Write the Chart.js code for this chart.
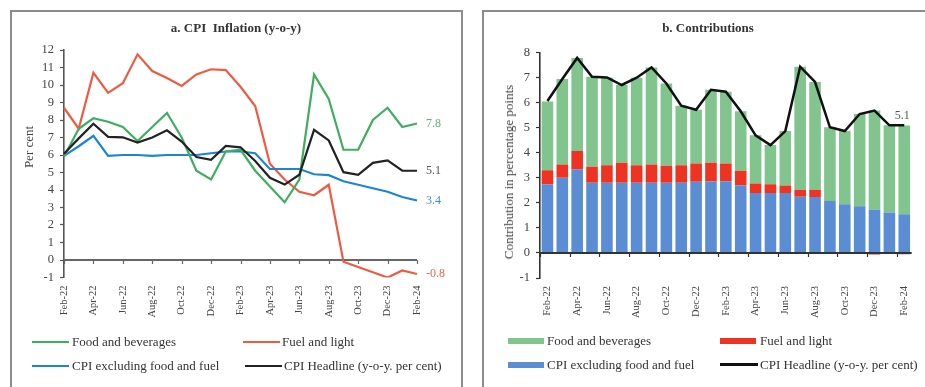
<!DOCTYPE html>
<html>
<head>
<meta charset="utf-8">
<script src="https://cdn.jsdelivr.net/npm/chart.js@4.4.1/dist/chart.umd.min.js"></script>
<style>
  html, body { margin: 0; padding: 0; background: #fff; }
  body { width: 925px; height: 387px; position: relative; overflow: hidden;
         font-family: "Liberation Serif", "DejaVu Serif", serif; color: #333; }
  .panel { position: absolute; top: 10px; height: 420px; border: 2px solid #8c8c8c; box-sizing: border-box; }
  canvas { position: absolute; top: 0; }
  .title { position: absolute; top: 20px; line-height: 16px; font-weight: bold; font-size: 13px;
           color: #333; white-space: nowrap; transform: translateX(-50%); }
  .ytitle { position: absolute; font-size: 13px; line-height: 14px; color: #444; white-space: nowrap;
            transform: translate(-50%, -50%) rotate(-90deg); }
  .leg { position: absolute; font-size: 13px; line-height: 16px; color: #333; white-space: nowrap; }
  .sw { position: absolute; }
</style>
</head>
<body>
<div class="panel" style="left:10px;width:453px;"></div>
<div class="panel" style="left:482px;width:470px;"></div>

<canvas id="infl" width="470" height="387" style="left:0;"></canvas>
<canvas id="contrib" width="455" height="387" style="left:470px;"></canvas>

<div class="title" style="left:236px;">a. CPI&nbsp; Inflation (y-o-y)</div>
<div class="title" style="left:708px;">b. Contributions</div>

<div class="ytitle" style="left:29px;top:147px;">Per cent</div>
<div class="ytitle" style="left:509px;top:172px;">Contribution in percentage points</div>

<!-- legend, panel a -->
<div class="sw" style="left:32px;top:341px;width:37px;height:2px;background:#3fae5e;"></div>
<div class="leg" style="left:72px;top:334px;">Food and beverages</div>
<div class="sw" style="left:243px;top:341px;width:37px;height:2px;background:#ef5a41;"></div>
<div class="leg" style="left:282px;top:334px;">Fuel and light</div>
<div class="sw" style="left:32px;top:365px;width:37px;height:2px;background:#1b86d0;"></div>
<div class="leg" style="left:72px;top:358px;">CPI excluding food and fuel</div>
<div class="sw" style="left:245px;top:365px;width:37px;height:2px;background:#222;"></div>
<div class="leg" style="left:284px;top:358px;">CPI Headline (y-o-y. per cent)</div>

<!-- legend, panel b -->
<div class="sw" style="left:508px;top:338px;width:36px;height:6px;background:#82c48e;"></div>
<div class="leg" style="left:547px;top:333px;">Food and beverages</div>
<div class="sw" style="left:720px;top:338px;width:36px;height:6px;background:#ee3322;"></div>
<div class="leg" style="left:760px;top:333px;">Fuel and light</div>
<div class="sw" style="left:508px;top:362px;width:36px;height:6px;background:#5b8dd4;"></div>
<div class="leg" style="left:547px;top:357px;">CPI excluding food and fuel</div>
<div class="sw" style="left:720px;top:363px;width:38px;height:3px;background:#111;"></div>
<div class="leg" style="left:760px;top:357px;">CPI Headline (y-o-y. per cent)</div>

<script>
// Months, Feb-22 .. Feb-24
const months = ['Feb-22','Mar-22','Apr-22','May-22','Jun-22','Jul-22','Aug-22','Sep-22','Oct-22','Nov-22',
  'Dec-22','Jan-23','Feb-23','Mar-23','Apr-23','May-23','Jun-23','Jul-23','Aug-23','Sep-23','Oct-23',
  'Nov-23','Dec-23','Jan-24','Feb-24'];

// Panel a: y-o-y inflation, per cent
const foodInfl = [5.9, 7.5, 8.1, 7.9, 7.6, 6.8, 7.6, 8.4, 7.0, 5.1, 4.6, 6.2, 6.3, 5.1, 4.2, 3.3, 4.6,
  10.6, 9.2, 6.3, 6.3, 8.0, 8.7, 7.6, 7.8];
const fuelInfl = [8.7, 7.5, 10.7, 9.55, 10.1, 11.75, 10.8, 10.4, 9.95, 10.6, 10.9, 10.85, 9.9, 8.8, 5.5,
  4.6, 3.9, 3.7, 4.3, -0.1, -0.4, -0.7, -1.0, -0.6, -0.8];
const coreInfl = [5.95, 6.5, 7.1, 5.95, 6.0, 6.0, 5.95, 6.0, 6.0, 6.0, 6.1, 6.2, 6.2, 6.1, 5.2, 5.2, 5.2,
  4.9, 4.85, 4.5, 4.3, 4.1, 3.9, 3.6, 3.4];
const headline = [6.07, 6.95, 7.79, 7.04, 7.01, 6.71, 7.0, 7.41, 6.77, 5.88, 5.72, 6.52, 6.44, 5.66, 4.7,
  4.31, 4.87, 7.44, 6.83, 5.02, 4.87, 5.55, 5.69, 5.1, 5.1];

// Panel b: contributions, percentage points
const coreContrib = [2.75, 3.0, 3.33, 2.8, 2.8, 2.8, 2.8, 2.8, 2.8, 2.8, 2.84, 2.85, 2.86, 2.7, 2.4, 2.4,
  2.4, 2.25, 2.24, 2.08, 1.95, 1.87, 1.74, 1.62, 1.55];
const fuelContrib = [0.55, 0.53, 0.74, 0.64, 0.7, 0.8, 0.7, 0.73, 0.68, 0.7, 0.73, 0.75, 0.71, 0.58, 0.37,
  0.35, 0.3, 0.28, 0.29, -0.01, -0.02, -0.04, -0.06, -0.04, -0.05];
const foodContrib = [2.75, 3.42, 3.72, 3.6, 3.51, 3.11, 3.5, 3.88, 3.29, 2.38, 2.15, 2.92, 2.87, 2.38,
  1.93, 1.56, 2.17, 4.91, 4.3, 2.94, 2.92, 3.68, 3.95, 3.48, 3.54];

const FONT = '"Liberation Serif", "DejaVu Serif", serif';
Chart.defaults.font.family = FONT;
Chart.defaults.color = '#444';

// Horizontal zero line with small tick marks below it at every labelled month
const zeroAxis = {
  id: 'zeroAxis',
  draw(chart, opts) {
    const { ctx, chartArea, scales } = chart;
    const y0 = scales.y.getPixelForValue(0);
    const xs = scales.x;
    const half = opts.between ? (xs.getPixelForTick(1) - xs.getPixelForTick(0)) / 2 : 0;
    ctx.save();
    ctx.strokeStyle = opts.color;
    ctx.lineWidth = opts.width;
    ctx.beginPath();
    ctx.moveTo(chartArea.left, y0);
    ctx.lineTo(chartArea.right, y0);
    ctx.stroke();
    ctx.lineWidth = 1.2;
    ctx.beginPath();
    for (let i = 0; i < xs.ticks.length; i += 2) {
      const x = Math.round(xs.getPixelForTick(i) - half) + 0.5;
      ctx.moveTo(x, y0);
      ctx.lineTo(x, y0 + 4);
    }
    ctx.stroke();
    ctx.restore();
  },
  beforeDatasetsDraw(chart, args, opts) { if (!opts.onTop) this.draw(chart, opts); },
  afterDatasetsDraw(chart, args, opts) { if (opts.onTop) this.draw(chart, opts); }
};

// Value of the last point written beside each flagged series
const endLabels = {
  id: 'endLabels',
  afterDatasetsDraw(chart) {
    const ctx = chart.ctx;
    ctx.save();
    ctx.font = '12px ' + FONT;
    ctx.textBaseline = 'middle';
    chart.data.datasets.forEach((ds, i) => {
      if (!ds.endLabel) return;
      const meta = chart.getDatasetMeta(i);
      const pt = meta.data[meta.data.length - 1];
      const v = ds.data[ds.data.length - 1];
      ctx.fillStyle = ds.endLabel.color;
      ctx.textAlign = ds.endLabel.align || 'left';
      ctx.fillText(v.toFixed(1), pt.x + ds.endLabel.dx, pt.y + ds.endLabel.dy);
    });
    ctx.restore();
  }
};

const everyOther = function (val, idx) { return idx % 2 === 0 ? this.getLabelForValue(val) : ''; };

function lineSet(label, data, color, endColor) {
  return { label, data, borderColor: color, backgroundColor: color, borderWidth: 2.2,
    pointRadius: 0, tension: 0, fill: false,
    endLabel: { color: endColor, dx: 9, dy: 0 } };
}

new Chart(document.getElementById('infl'), {
  type: 'line',
  data: {
    labels: months,
    datasets: [
      lineSet('CPI Headline (y-o-y. per cent)', headline, '#222222', '#555555'),
      lineSet('Food and beverages', foodInfl, '#3fae5e', '#5cb277'),
      lineSet('CPI excluding food and fuel', coreInfl, '#1b86d0', '#3b8fcc'),
      lineSet('Fuel and light', fuelInfl, '#ef5a41', '#e8664f')
    ]
  },
  options: {
    responsive: false,
    animation: false,
    devicePixelRatio: 1,
    layout: { padding: { left: 24, right: 53, top: 50, bottom: 0 } },
    plugins: {
      legend: { display: false },
      tooltip: { enabled: false },
      zeroAxis: { color: '#666', width: 2, between: false, onTop: false }
    },
    scales: {
      x: {
        type: 'category',
        offset: false,
        grid: { display: false, drawTicks: false },
        border: { display: false },
        ticks: { autoSkip: false, minRotation: 90, maxRotation: 90, padding: 8,
                 font: { size: 10.5 }, color: '#444', callback: everyOther },
        afterFit(axis) { axis.height = 109.5; }
      },
      y: {
        min: -1, max: 12,
        ticks: { stepSize: 1, autoSkip: false, padding: 6, font: { size: 12.5 }, color: '#444' },
        grid: { drawOnChartArea: false, drawTicks: true, tickLength: 4, tickColor: '#555', tickWidth: 1.2 },
        border: { display: true, color: '#555', width: 1.6 },
        afterFit(axis) { axis.width = 40; }
      }
    }
  },
  plugins: [zeroAxis, endLabels]
});

new Chart(document.getElementById('contrib'), {
  type: 'bar',
  data: {
    labels: months,
    datasets: [
      { type: 'line', label: 'CPI Headline (y-o-y. per cent)', data: headline, order: 0,
        borderColor: '#111', backgroundColor: '#111', borderWidth: 2.5, pointRadius: 0, tension: 0,
        endLabel: { color: '#555', dx: -2, dy: -9, align: 'center' } },
      { label: 'CPI excluding food and fuel', data: coreContrib, backgroundColor: '#5b8dd4', order: 1 },
      { label: 'Fuel and light', data: fuelContrib, backgroundColor: '#ee3322', order: 1 },
      { label: 'Food and beverages', data: foodContrib, backgroundColor: '#82c48e', order: 1 }
    ]
  },
  options: {
    responsive: false,
    animation: false,
    devicePixelRatio: 1,
    layout: { padding: { left: 20, right: 7.5, top: 52.7, bottom: 0 } },
    datasets: { bar: { barPercentage: 0.78, categoryPercentage: 1 } },
    plugins: {
      legend: { display: false },
      tooltip: { enabled: false },
      zeroAxis: { color: '#333', width: 2, between: true, onTop: true }
    },
    scales: {
      x: {
        type: 'category',
        offset: true,
        stacked: true,
        grid: { display: false, drawTicks: false },
        border: { display: false },
        ticks: { autoSkip: false, minRotation: 90, maxRotation: 90, padding: 8,
                 font: { size: 10.5 }, color: '#444', callback: everyOther },
        afterFit(axis) { axis.height = 109; }
      },
      y: {
        stacked: true,
        min: -1, max: 8,
        ticks: { stepSize: 1, autoSkip: false, padding: 6, font: { size: 12.5 }, color: '#444' },
        grid: { drawOnChartArea: false, drawTicks: true, tickLength: 4, tickColor: '#333', tickWidth: 1.2 },
        border: { display: true, color: '#333', width: 1.6 },
        afterFit(axis) { axis.width = 50; }
      }
    }
  },
  plugins: [zeroAxis, endLabels]
});
</script>
</body>
</html>
